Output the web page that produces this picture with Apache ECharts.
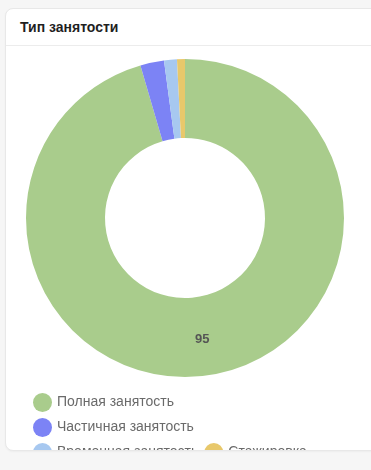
<!DOCTYPE html>
<html>
<head>
<meta charset="utf-8">
<script src="https://cdn.jsdelivr.net/npm/echarts@6/dist/echarts.min.js"></script>
<style>
  html, body { margin: 0; padding: 0; }
  body {
    width: 371px; height: 470px; overflow: hidden;
    background: #f6f6f6;
    font-family: "Liberation Sans", Arial, sans-serif;
    position: relative;
  }
  .card {
    position: absolute; left: 5px; top: 8px;
    width: 400px; height: 443px;
    box-sizing: border-box;
    background: #fff;
    border: 1px solid #e8e8e8;
    border-radius: 8px;
    overflow: hidden;
    box-shadow: 0 1px 2px rgba(0,0,0,0.04);
  }
  .card-head {
    height: 36px;
    border-bottom: 1px solid #ececec;
    box-sizing: content-box;
    padding-left: 14px;
    line-height: 36px;
    font-size: 14px;
    font-weight: 600;
    color: #1f1f1f;
  }
  #chart {
    position: absolute; left: 0; top: 37px;
    width: 394px; height: 430px;
  }
</style>
</head>
<body>
<div class="card">
  <div class="card-head">Тип занятости</div>
  <div id="chart"></div>
</div>
<script>
// типы занятости и их значения
const categories = ['Полная занятость', 'Частичная занятость', 'Временная занятость', 'Стажировка'];
const values = [95, 2.4, 1.3, 0.8];
const colors = ['#a9cc8c', '#7c83f5', '#a7c8f0', '#e8c86b'];

const chart = echarts.init(document.getElementById('chart'), null, { renderer: 'canvas' });

const option = {
  animation: false,
  color: colors,
  legend: {
    left: 22,
    top: 342,
    width: 290,
    orient: 'horizontal',
    icon: 'circle',
    itemWidth: 19,
    itemHeight: 19,
    itemGap: 6,
    textStyle: {
      fontSize: 14,
      color: '#6a6a6a',
      fontFamily: '"Liberation Sans", Arial, sans-serif'
    },
    data: categories
  },
  series: [{
    type: 'pie',
    center: [179, 172],
    radius: [80, 159],
    startAngle: 90,
    avoidLabelOverlap: false,
    minShowLabelAngle: 20,
    label: {
      show: true,
      position: 'inside',
      formatter: '{c}',
      fontSize: 13,
      fontWeight: 'bold',
      color: '#555',
      fontFamily: '"Liberation Sans", Arial, sans-serif'
    },
    labelLine: { show: false },
    itemStyle: { borderWidth: 0 },
    data: categories.map((name, i) => ({ name, value: values[i] }))
  }]
};

chart.setOption(option);
</script>
</body>
</html>
